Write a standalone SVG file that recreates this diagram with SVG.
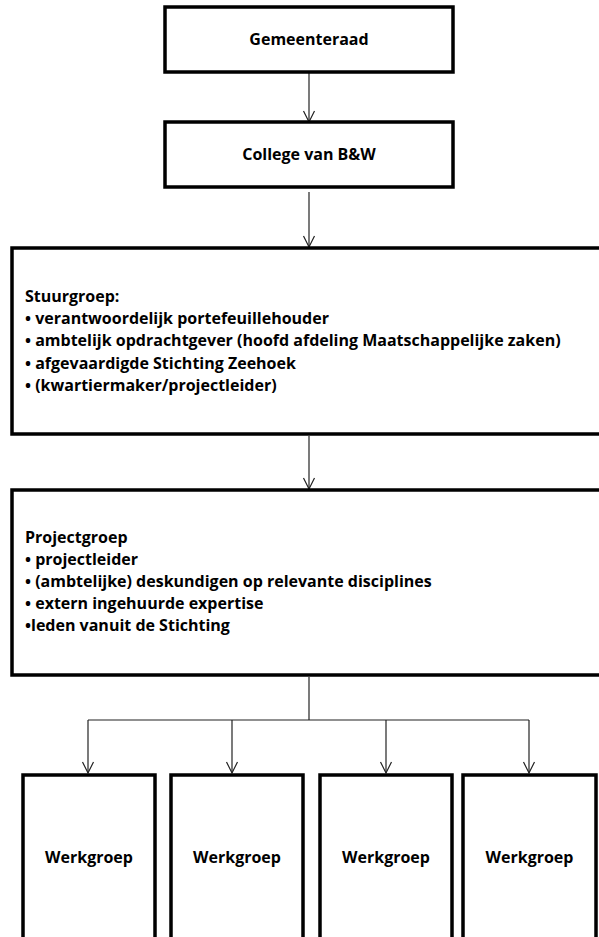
<svg xmlns="http://www.w3.org/2000/svg" width="599" height="937" viewBox="0 0 599 937">
<style>
.box{fill:#fff;stroke:#000;stroke-width:3.5}
.t{font-family:"Open Sans","Liberation Sans",Arial,sans-serif;font-weight:bold;font-size:16px;fill:#000}
.c{text-anchor:middle}
.ln{fill:none;stroke:#222;stroke-width:1.2}
</style>
<defs>
<marker id="ah" markerWidth="14" markerHeight="14" refX="12" refY="7" orient="auto" markerUnits="userSpaceOnUse" viewBox="0 0 14 14">
<path d="M1,1.5 L12,7 L1,12.5" fill="none" stroke="#222" stroke-width="1.2"/>
</marker>
</defs>
<g id="connectors">
<line class="ln" x1="309" y1="73" x2="309" y2="122" marker-end="url(#ah)"/>
<line class="ln" x1="309" y1="192" x2="309" y2="247" marker-end="url(#ah)"/>
<line class="ln" x1="309" y1="436" x2="309" y2="489" marker-end="url(#ah)"/>
<polyline class="ln" points="309,677 309,720"/>
<polyline class="ln" points="88,720 529,720"/>
<line class="ln" x1="88" y1="720" x2="88" y2="773" marker-end="url(#ah)"/>
<line class="ln" x1="232" y1="720" x2="232" y2="773" marker-end="url(#ah)"/>
<line class="ln" x1="386" y1="720" x2="386" y2="773" marker-end="url(#ah)"/>
<line class="ln" x1="529" y1="720" x2="529" y2="773" marker-end="url(#ah)"/>
</g>
<g id="gemeenteraad">
<rect class="box" x="165" y="7" width="288" height="65"/>
<text class="t c" x="309" y="45">Gemeenteraad</text>
</g>
<g id="college">
<rect class="box" x="165" y="122" width="288" height="65"/>
<text class="t c" x="309" y="160">College van B&amp;W</text>
</g>
<g id="stuurgroep">
<rect class="box" x="12" y="248" width="600" height="186"/>
<text class="t" x="25" y="302">Stuurgroep:</text>
<text class="t" x="25" y="324">• verantwoordelijk portefeuillehouder</text>
<text class="t" x="25" y="346">• ambtelijk opdrachtgever (hoofd afdeling Maatschappelijke zaken)</text>
<text class="t" x="25" y="369">• afgevaardigde Stichting Zeehoek</text>
<text class="t" x="25" y="391">• (kwartiermaker/projectleider)</text>
</g>
<g id="projectgroep">
<rect class="box" x="12" y="490" width="600" height="185"/>
<text class="t" x="25" y="543">Projectgroep</text>
<text class="t" x="25" y="565">• projectleider</text>
<text class="t" x="25" y="587">• (ambtelijke) deskundigen op relevante disciplines</text>
<text class="t" x="25" y="609">• extern ingehuurde expertise</text>
<text class="t" x="25" y="631">•leden vanuit de Stichting</text>
</g>
<g id="werkgroep1">
<rect class="box" x="23" y="775" width="132" height="200"/>
<text class="t c" x="89" y="863">Werkgroep</text>
</g>
<g id="werkgroep2">
<rect class="box" x="171" y="775" width="132" height="200"/>
<text class="t c" x="237" y="863">Werkgroep</text>
</g>
<g id="werkgroep3">
<rect class="box" x="320" y="775" width="132" height="200"/>
<text class="t c" x="386" y="863">Werkgroep</text>
</g>
<g id="werkgroep4">
<rect class="box" x="463" y="775" width="133" height="200"/>
<text class="t c" x="529.5" y="863">Werkgroep</text>
</g>
</svg>
